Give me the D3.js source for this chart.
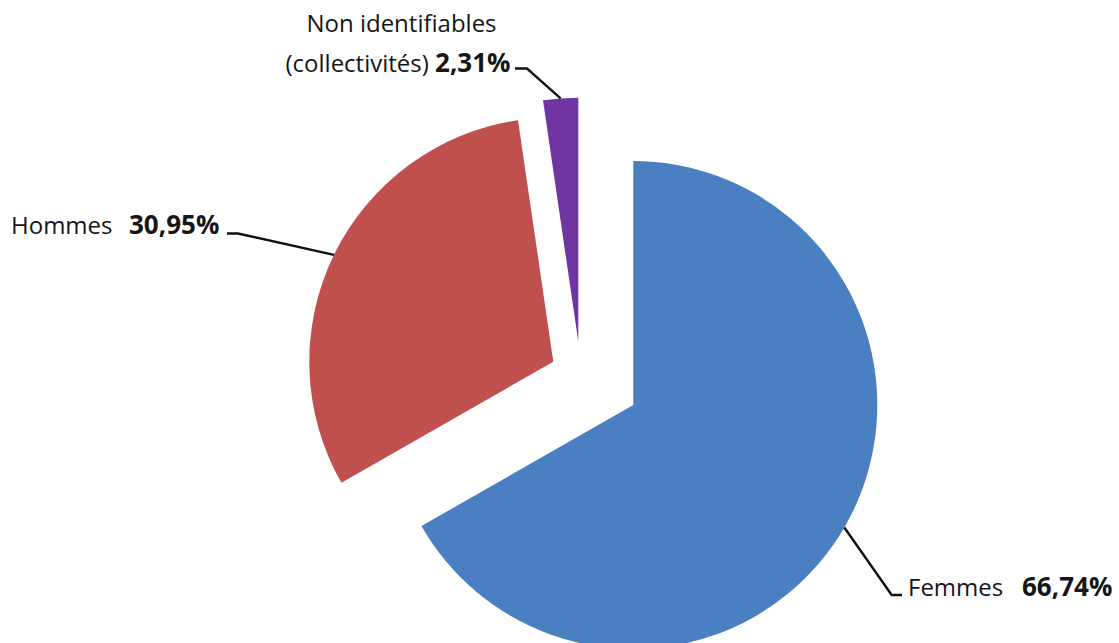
<!DOCTYPE html>
<html lang="fr">
<head>
<meta charset="utf-8">
<script src="https://cdn.jsdelivr.net/npm/d3@7"></script>
<style>
  html, body { margin: 0; padding: 0; background: #ffffff; }
  svg { display: block; }
  text { font-family: "Open Sans", "Noto Sans", sans-serif; fill: #161616; }
</style>
</head>
<body>
<div id="chart"></div>
<script>
// Répartition par sexe (en %)
const categories = ["Femmes", "Hommes", "Non identifiables (collectivités)"];
const values = [66.74, 30.95, 2.31];
const valueLabels = ["66,74%", "30,95%", "2,31%"];
const nameLines = [["Femmes"], ["Hommes"], ["Non identifiables", "(collectivités)"]];
const colors = ["#4a7fc1", "#c0504d", "#7035a0"];

const width = 1119, height = 643;
const radius = 244;
const center = [593.5, 382.5];
// exploded slice offsets from the pie centre
const explode = [[39.8, 22.5], [-40.2, -20.8], [-15.2, -40.8]];

const svg = d3.select("#chart").append("svg")
  .attr("width", width).attr("height", height);

const pie = d3.pie().sort(null).value(d => d);
const arcs = pie(values);
const arc = d3.arc().innerRadius(0).outerRadius(radius);

const slices = svg.append("g").attr("transform", `translate(${center[0]},${center[1]})`);

slices.selectAll("path")
  .data(arcs)
  .join("path")
  .attr("transform", (d, i) => `translate(${explode[i][0]},${explode[i][1]})`)
  .attr("d", arc)
  .attr("fill", (d, i) => colors[i]);

// leader lines: from the outer edge of each slice to an elbow, then a short horizontal run
const leaders = [
  { elbow: [891.7, 595], end: [902, 595] },
  { elbow: [238, 233.5], end: [227, 233.5] },
  { elbow: [527, 68.5], end: [515, 68.5] }
];

arcs.forEach((d, i) => {
  const mid = (d.startAngle + d.endAngle) / 2;
  const sx = center[0] + explode[i][0] + radius * Math.sin(mid);
  const sy = center[1] + explode[i][1] - radius * Math.cos(mid);
  svg.append("path")
    .attr("d", d3.line()([[sx, sy], leaders[i].elbow, leaders[i].end]))
    .attr("fill", "none")
    .attr("stroke", "#111")
    .attr("stroke-width", 2.4);
});

const fontSize = 24;
const boldSize = 26;

// Femmes label (left aligned after the leader)
const tF = svg.append("text").attr("x", 908).attr("y", 596).attr("font-size", fontSize);
tF.append("tspan").text(nameLines[0][0]);
tF.append("tspan").attr("x", 1022).attr("font-weight", "bold").attr("font-size", boldSize).text(valueLabels[0]);

// Hommes label
const tH = svg.append("text").attr("x", 11).attr("y", 234).attr("font-size", fontSize);
tH.append("tspan").text(nameLines[1][0]);
tH.append("tspan").attr("x", 129).attr("font-weight", "bold").attr("font-size", boldSize).text(valueLabels[1]);

// Non identifiables: two centred lines
svg.append("text").attr("x", 401.5).attr("y", 31.5).attr("font-size", fontSize)
  .attr("text-anchor", "middle").text(nameLines[2][0]);
const tN = svg.append("text").attr("x", 398).attr("y", 71.5).attr("font-size", fontSize)
  .attr("text-anchor", "middle");
tN.append("tspan").text(nameLines[2][1] + " ");
tN.append("tspan").attr("font-weight", "bold").attr("font-size", boldSize).text(valueLabels[2]);
</script>
</body>
</html>
